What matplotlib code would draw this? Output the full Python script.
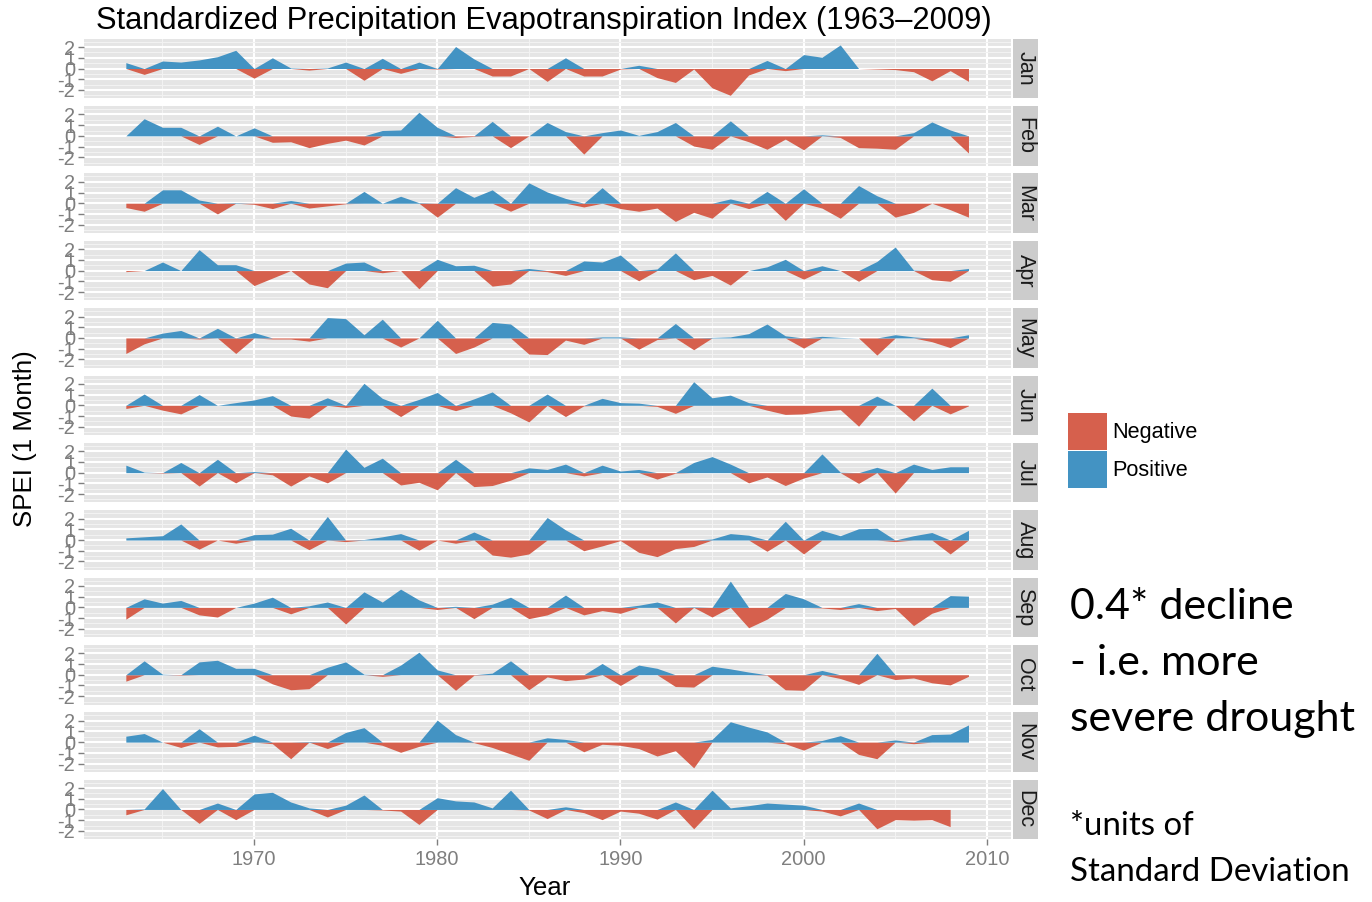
import numpy as np
import matplotlib
matplotlib.use("Agg")
import matplotlib.pyplot as plt
from matplotlib.patches import Patch
from matplotlib.ticker import MultipleLocator

plt.rcParams['font.family'] = ['Liberation Sans', 'DejaVu Sans']

# monthly SPEI (1 month), 1963-2009
years = np.arange(1963, 2010)
months = ['Jan', 'Feb', 'Mar', 'Apr', 'May', 'Jun',
          'Jul', 'Aug', 'Sep', 'Oct', 'Nov', 'Dec']

jan = [0.55, -0.55, 0.7, 0.6, 0.8, 1.1, 1.7, -0.9, 1.0, 0.05,
       -0.15, 0.05, 0.6, -1.1, 0.95, -0.45, 0.6, -0.05, 2.05, 0.9,
       -0.7, -0.7, 0.0, -1.2, 1.0, -0.7, -0.7, -0.05, 0.3, -0.85,
       -1.3, -0.05, -1.8, -2.5, -0.6, 0.75, -0.2, 1.3, 1.05, 2.2,
       0.0, -0.05, -0.1, -0.3, -1.15, -0.2, -1.2]
feb = [0.0, 1.6, 0.8, 0.8, -0.8, 0.9, 0.0, 0.75, -0.6, -0.55,
       -1.1, -0.7, -0.4, -0.85, 0.5, 0.55, 2.2, 0.8, -0.15, -0.05,
       1.35, -1.1, 0.0, 1.25, 0.4, -1.7, 0.3, 0.55, 0.05, 0.4,
       1.25, -0.95, -1.25, 1.4, -0.55, -1.25, -0.3, -1.3, 0.1, -0.15,
       -1.1, -1.15, -1.25, 0.3, 1.3, 0.55, -1.6]
mar = [-0.4, -0.75, 1.25, 1.25, 0.3, -1.0, 0.05, -0.1, -0.5, 0.25,
       -0.45, -0.25, -0.05, 1.1, 0.0, 0.65, 0.05, -1.3, 1.45, 0.55,
       1.25, -0.75, 1.9, 1.05, 0.45, -0.35, 1.45, -0.5, -0.75, -0.45,
       -1.7, -0.85, -1.4, 0.4, -0.5, 1.1, -1.6, 1.35, -0.45, -1.4,
       1.65, 0.7, -1.3, -0.85, 0.0, -0.6, -1.3]
apr = [-0.1, 0.0, 0.8, 0.0, 1.95, 0.55, 0.55, -1.4, -0.7, 0.0,
       -1.25, -1.6, 0.7, 0.8, -0.2, 0.0, -1.7, 1.05, 0.45, 0.5,
       -1.45, -1.25, 0.2, -0.1, -0.45, 0.9, 0.8, 1.45, -0.95, 0.15,
       1.65, -0.85, -0.45, -1.35, 0.0, 0.35, 1.05, -0.8, 0.45, 0.0,
       -1.0, 0.85, 2.2, 0.05, -0.85, -1.0, 0.2]
may = [-1.45, -0.55, 0.45, 0.7, -0.1, 0.9, -1.45, 0.5, -0.1, -0.1,
       -0.3, 1.9, 1.8, 0.3, 1.75, -0.85, 0.0, 1.65, -1.45, -0.85,
       1.45, 1.3, -1.5, -1.55, -0.2, -0.6, 0.1, 0.1, -1.05, -0.15,
       1.35, -1.1, 0.05, 0.1, 0.4, 1.3, 0.2, -0.95, 0.15, 0.05,
       0.0, -1.6, 0.3, 0.1, -0.35, -0.9, 0.3]
jun = [-0.3, 1.05, -0.45, -0.8, 1.0, 0.0, 0.25, 0.5, 0.9, -1.0,
       -1.2, 0.7, -0.2, 2.05, 0.65, -1.05, 0.55, 1.2, -0.5, 0.6,
       1.25, -0.7, -1.55, 1.05, -1.05, -0.05, 0.65, 0.25, 0.2, -0.1,
       -0.75, 2.2, 0.7, 0.95, 0.25, -0.45, -0.85, -0.8, -0.55, -0.4,
       -1.95, 0.85, 0.0, -1.45, 1.6, -0.8, -0.05]
jul = [0.7, 0.05, -0.05, 0.95, -1.25, 1.25, -0.95, 0.1, -0.2, -1.25,
       -0.3, -0.95, 2.2, 0.5, 1.35, -1.15, -0.9, -1.6, 1.25, -1.3,
       -1.2, -0.7, 0.45, 0.3, 0.8, -0.3, 0.7, 0.15, 0.3, -0.6,
       -0.05, 0.95, 1.5, 0.8, -0.95, -0.4, -1.2, -0.5, 1.75, 0.05,
       -1.0, 0.5, -1.9, 0.8, 0.3, 0.55, 0.55]
aug = [0.2, 0.3, 0.4, 1.5, -0.85, 0.0, -0.3, 0.5, 0.55, 1.1,
       -0.9, 2.2, -0.15, 0.05, 0.3, 0.6, -0.95, 0.0, -0.3, 0.75,
       -1.4, -1.6, -1.3, 2.1, 0.95, -1.0, -0.55, -0.05, -1.15, -1.55,
       -0.8, -0.6, 0.1, 0.6, 0.45, -1.05, 1.75, -1.3, 0.9, 0.4,
       1.05, 1.1, -0.15, 0.4, 0.7, -1.3, 0.9]
sep = [-1.1, 0.8, 0.4, 0.65, -0.7, -0.9, 0.0, 0.4, 0.95, -0.6,
       0.15, 0.5, -1.55, 1.45, 0.5, 1.7, 0.7, -0.2, 0.1, -1.05,
       0.3, 0.95, -1.05, -0.7, 1.15, -0.7, -0.3, -0.55, 0.2, 0.5,
       -1.45, 0.05, -0.9, 2.45, -1.9, -1.1, 1.3, 0.8, -0.05, -0.2,
       0.35, -0.3, -0.1, -1.7, -0.55, 1.1, 1.05]
oct_ = [-0.6, 1.3, 0.05, -0.05, 1.2, 1.35, 0.6, 0.6, -0.85, -1.4,
        -1.3, 0.7, 1.2, 0.05, -0.15, 0.9, 2.1, 0.45, -1.45, -0.05,
        0.15, 1.3, -1.4, -0.2, -0.55, -0.4, 1.05, -1.0, 0.9, 0.6,
        -1.1, -1.15, 0.8, 0.55, 0.25, -0.05, -1.4, -1.45, 0.4, -0.35,
        -0.9, 2.0, -0.45, -0.3, -0.75, -0.95, -0.15]
nov = [0.55, 0.8, 0.0, -0.5, 1.25, -0.45, -0.4, 0.65, -0.15, -1.55,
       0.05, -0.6, 0.9, 1.35, -0.3, -0.95, -0.4, 2.05, 0.7, -0.05,
       -0.5, -1.1, -1.7, 0.4, 0.25, -0.9, -0.2, -0.3, -0.6, -1.3,
       -0.8, -2.4, 0.25, 1.9, 1.4, 0.95, -0.15, -0.75, 0.15, 0.6,
       -1.15, -1.55, 0.2, -0.15, 0.7, 0.75, 1.6]
dec = [-0.5, 0.05, 1.95, 0.0, -1.3, 0.6, -0.95, 1.45, 1.6, 0.7,
       0.15, -0.7, 0.4, 1.35, -0.05, -0.15, -1.4, 1.1, 0.8, 0.7,
       0.15, 1.8, -0.05, -0.85, 0.25, -0.3, -0.95, -0.15, -0.35, -0.9,
       0.7, -1.8, 1.8, 0.15, 0.35, 0.6, 0.5, 0.4, -0.15, -0.6,
       0.6, -1.8, -0.95, -1.0, -0.95, -1.6, np.nan]  # no Dec 2009 yet

spei = [jan, feb, mar, apr, may, jun, jul, aug, sep, oct_, nov, dec]

neg_col = '#D6604D'
pos_col = '#4393C3'

W, H = 1372, 902
fig = plt.figure(figsize=(W / 100, H / 100), dpi=100)

# panel geometry in pixels
x0, x1 = 83.7, 1010.6
top0, ph, step = 38.7, 59.6, 67.36

for i, (name, vals) in enumerate(zip(months, spei)):
    v = np.array(vals, dtype=float)
    top = top0 + i * step
    ax = fig.add_axes([x0 / W, 1 - (top + ph) / H, (x1 - x0) / W, ph / H])
    ax.set_facecolor('#E5E5E5')
    for s in ax.spines.values():
        s.set_visible(False)

    ax.fill_between(years, 0, np.minimum(v, 0), color=neg_col, lw=0)
    ax.fill_between(years, 0, np.maximum(v, 0), color=pos_col, lw=0)

    ax.set_xlim(1960.7, 2011.3)
    ax.set_ylim(-2.78, 2.78)
    ax.xaxis.set_major_locator(MultipleLocator(10))
    ax.xaxis.set_minor_locator(MultipleLocator(5))
    ax.set_yticks([-2, -1, 0, 1, 2])
    ax.set_yticklabels(['-2', '-1', '0', '1', '2'])
    ax.yaxis.set_minor_locator(MultipleLocator(0.5))
    ax.set_axisbelow(True)
    ax.grid(which='major', color='white', lw=1.5)
    ax.grid(which='minor', color='#F2F2F2', lw=0.8)
    ax.tick_params(which='minor', length=0)
    ax.tick_params(axis='y', which='major', colors='#7F7F7F', labelsize=14.4,
                   length=4, width=1, pad=2)
    if i == len(months) - 1:
        ax.tick_params(axis='x', which='major', colors='#7F7F7F', labelsize=14.4,
                       length=4, width=1, pad=4)
    else:
        ax.tick_params(axis='x', which='major', length=0, labelbottom=False)

    # facet strip on the right
    sx = fig.add_axes([1012.5 / W, 1 - (top + ph) / H, 25 / W, ph / H])
    sx.set_facecolor('#CCCCCC')
    sx.set_xticks([])
    sx.set_yticks([])
    for s in sx.spines.values():
        s.set_visible(False)
    sx.text(0.5, 0.5, name, rotation=-90, ha='center', va='center',
            fontsize=15.5, color='#1A1A1A', transform=sx.transAxes)

fig.text(544 / W, 1 - 21 / H,
         'Standardized Precipitation Evapotranspiration Index (1963\u20132009)',
         ha='center', va='center', fontsize=22.2)
fig.text(25 / W, 1 - 439 / H, 'SPEI (1 Month)', rotation=90,
         ha='center', va='center', fontsize=18.6)
fig.text(545 / W, 1 - 888 / H, 'Year', ha='center', va='center', fontsize=18.6)

handles = [Patch(color=neg_col, lw=0), Patch(color=pos_col, lw=0)]
fig.legend(handles, ['Negative', 'Positive'], loc='upper left',
           bbox_to_anchor=(1068 / W, 1 - 413 / H), frameon=False,
           fontsize=15.6, handlelength=1.8, handleheight=2.25,
           handletextpad=0.25, labelspacing=0.03, borderpad=0, borderaxespad=0)

note_font = ['Lato', 'DejaVu Sans']
for txt, yb in [('0.4* decline', 619), ('- i.e. more', 675),
                ('severe drought', 731)]:
    fig.text(1070 / W, 1 - yb / H, txt, ha='left', va='baseline',
             fontsize=31, family=note_font)
for txt, yb in [('*units of', 835), ('Standard Deviation', 881)]:
    fig.text(1070 / W, 1 - yb / H, txt, ha='left', va='baseline',
             fontsize=23.8, family=note_font)

fig.savefig('out.png', dpi=100)
